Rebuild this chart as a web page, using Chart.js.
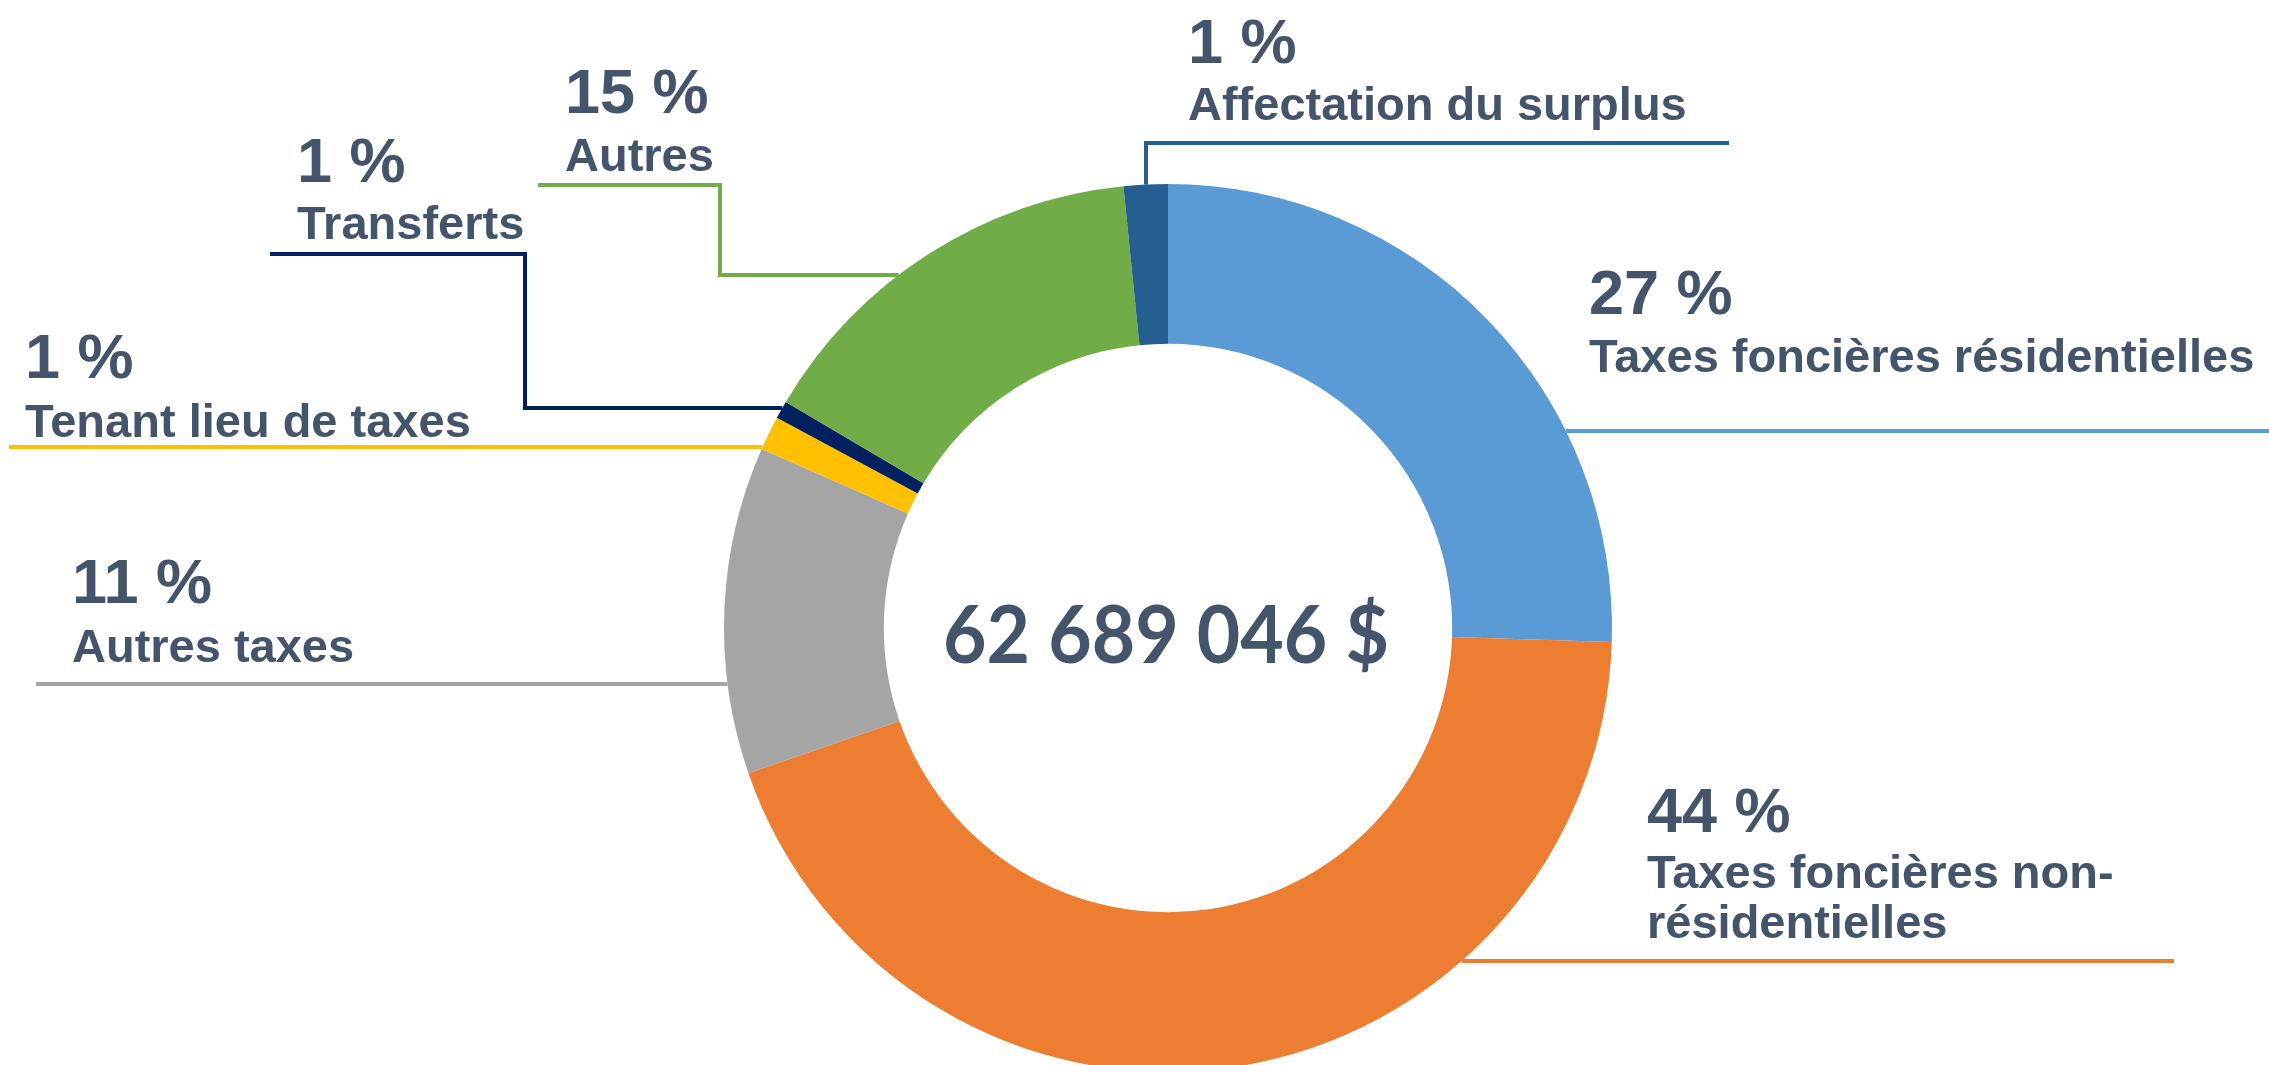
<!DOCTYPE html>
<html lang="fr">
<head>
<meta charset="utf-8">
<title>Revenus 62 689 046 $</title>
<script src="https://cdn.jsdelivr.net/npm/chart.js@4.4.1/dist/chart.umd.min.js"></script>
<style>
    html, body { margin: 0; padding: 0; background: #ffffff; overflow: hidden; }
    #chart-revenus { display: block; }
</style>
</head>
<body>
<canvas id="chart-revenus" width="2269" height="1256"></canvas>
<script>
/**
 * Répartition des revenus - doughnut with Excel style callout labels.
 */

// Data (shares, clockwise from 12 o'clock)
const categories = [
    'Taxes foncières résidentielles',
    'Taxes foncières non-résidentielles',
    'Autres taxes',
    'Tenant lieu de taxes',
    'Transferts',
    'Autres',
    'Affectation du surplus'
];
const shares = [25.5, 44.2, 11.9, 1.25, 0.65, 14.9, 1.6];
const percentLabels = ['27 %', '44 %', '11 %', '1 %', '1 %', '15 %', '1 %'];
const nameLines = [
    ['Taxes foncières résidentielles'],
    ['Taxes foncières non-', 'résidentielles'],
    ['Autres taxes'],
    ['Tenant lieu de taxes'],
    ['Transferts'],
    ['Autres'],
    ['Affectation du surplus']
];
const totalLabel = '62 689 046 $';

const sliceColors = [
    '#5b9bd5', // light blue
    '#ed7d31', // orange
    '#a5a5a5', // gray
    '#ffc000', // gold
    '#002060', // navy
    '#70ad47', // green
    '#255e91'  // dark blue
];
const textColor = '#44546a';

/**
 * Callout layout: text anchor and the leader path drawn from the label side.
 * The last segment runs toward the ring ('left', 'right' or 'down') and its
 * end is found from the arc element's own radius.
 */
const callouts = [
    { x: 1589, pct: 314, names: [372], path: [[2269, 431]], toward: 'left' },
    { x: 1647, pct: 832, names: [888, 938], path: [[2174, 961]], toward: 'left' },
    { x: 72, pct: 603, names: [662], path: [[36, 684]], toward: 'right' },
    { x: 25, pct: 378, names: [437], path: [[9, 447]], toward: 'right' },
    { x: 297, pct: 182, names: [239], path: [[270, 254], [525, 254], [525, 408]], toward: 'right' },
    { x: 565, pct: 113, names: [171], path: [[538, 185], [720, 185], [720, 275]], toward: 'right' },
    { x: 1188, pct: 63, names: [120], path: [[1729, 143], [1146, 143]], toward: 'down' }
];

const calloutPlugin = {
    id: 'callouts',
    afterDraw(chart) {
        const ctx = chart.ctx;
        const meta = chart.getDatasetMeta(0);

        callouts.forEach((c, i) => {
            const arc = meta.data[i];
            const cx = arc.x, cy = arc.y, r = arc.outerRadius;
            const pts = c.path.map(p => p.slice());
            const last = pts[pts.length - 1];

            // Where the leader meets the outer edge of the ring
            if (c.toward === 'down') {
                pts.push([last[0], cy - Math.sqrt(r * r - (last[0] - cx) ** 2)]);
            } else {
                const dx = Math.sqrt(r * r - (last[1] - cy) ** 2);
                pts.push([c.toward === 'left' ? cx + dx : cx - dx, last[1]]);
            }

            ctx.save();
            ctx.strokeStyle = sliceColors[i];
            ctx.lineWidth = 4;
            ctx.lineJoin = 'miter';
            ctx.beginPath();
            pts.forEach((p, k) => k ? ctx.lineTo(p[0], p[1]) : ctx.moveTo(p[0], p[1]));
            ctx.stroke();

            ctx.fillStyle = textColor;
            ctx.textAlign = 'left';
            ctx.textBaseline = 'alphabetic';
            ctx.font = 'bold 63px "Liberation Sans", Arial, sans-serif';
            ctx.fillText(percentLabels[i], c.x, c.pct);
            ctx.font = 'bold 47px "Liberation Sans", Arial, sans-serif';
            nameLines[i].forEach((line, k) => ctx.fillText(line, c.x, c.names[k]));
            ctx.restore();
        });

        // Total in the hole
        const a = meta.data[0];
        ctx.save();
        ctx.fillStyle = textColor;
        ctx.font = 'bold 81px Lato, "Open Sans", sans-serif';
        ctx.textBaseline = 'alphabetic';
        ctx.textAlign = 'center';
        const w = ctx.measureText(totalLabel).width;
        const sx = 446 / w;
        ctx.translate(a.x - 2, 663);
        ctx.scale(sx, 1);
        ctx.fillText(totalLabel, 0, 0);
        ctx.restore();
    }
};

new Chart(document.getElementById('chart-revenus').getContext('2d'), {
    type: 'doughnut',
    data: {
        labels: categories,
        datasets: [{
            data: shares,
            backgroundColor: sliceColors,
            borderWidth: 0,
            hoverOffset: 0
        }]
    },
    options: {
        responsive: false,
        animation: false,
        devicePixelRatio: 1,
        cutout: '64%',
        layout: {
            padding: { left: 724, right: 657, top: 184, bottom: 184 }
        },
        plugins: {
            legend: { display: false },
            tooltip: { enabled: false }
        }
    },
    plugins: [calloutPlugin]
});
</script>
</body>
</html>
